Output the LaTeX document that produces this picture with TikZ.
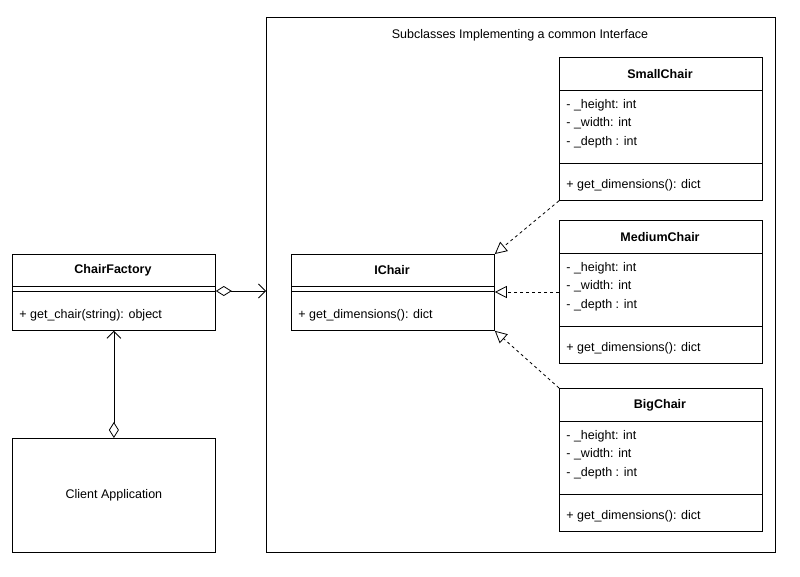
\documentclass[tikz,border=0pt]{standalone}
\usepackage{fontspec}
\setmainfont{Liberation Sans}
\usetikzlibrary{arrows.meta,positioning}

\tikzset{
  umlbox/.style={draw, fill=white, minimum width=203pt, inner sep=0pt},
  attr/.style={anchor=west, inner sep=0pt},
  realize/.style={dashed, -{Triangle[open,length=12pt,width=12pt]}},
  aggr/.style={{Diamond[open,length=16pt,width=10pt]}-{Straight Barb[length=7pt,width=14pt]}}
}

\begin{document}
\begin{tikzpicture}[x=1pt,y=-1pt,font=\fontsize{12.5}{15}\selectfont,line width=0.8pt]
  \useasboundingbox (0,0) rectangle (800,577);

  % container
  \node (group) [draw, minimum width=509pt, minimum height=535pt, anchor=north west] at (266,17) {};
  \node (grouptitle) at (520,35) {Subclasses Implementing a common Interface};

  % ChairFactory
  \node (factory) [umlbox, minimum height=76pt, anchor=north west] at (12,254) {};
  \node (factorytitle) at (113,270) {\bfseries ChairFactory};
  \draw (12,286) -- (215,286) (12,291) -- (215,291);
  \node (factoryop) [attr] at (19,315) {+ get\_chair(string): object};

  % client
  \node (client) [umlbox, minimum height=114pt, anchor=north west] at (12,438) {Client Application};

  % IChair
  \node (ichair) [umlbox, minimum height=76pt, anchor=north west] at (291,254) {};
  \node (ichairtitle) at (392,270) {\bfseries IChair};
  \draw (291,286) -- (494,286) (291,291) -- (494,291);
  \node (ichairop) [attr] at (298,315) {+ get\_dimensions(): dict};

  % subclasses
  \foreach \name/\title/\y in {small/SmallChair/57, medium/MediumChair/220, big/BigChair/388} {
    \node (\name) [umlbox, minimum height=143pt, anchor=north west] at (559,\y) {};
    \node (\name title) at (660,\y+17) {\bfseries \title};
    \draw (559,\y+33) -- (762,\y+33) (559,\y+106) -- (762,\y+106);
    \node (\name h) [attr] at (566,\y+48) {- \_height: int};
    \node (\name w) [attr] at (566,\y+66) {- \_width: int};
    \node (\name d) [attr] at (566,\y+85) {- \_depth : int};
    \node (\name op) [attr] at (566,\y+128) {+ get\_dimensions(): dict};
  }

  % connectors
  \draw [aggr] (factory.east |- 0,291) -- (group.west |- 0,291);
  \draw [aggr] (client.north) -- (factory.south);
  \draw [realize] (small.south west) -- (ichair.north east);
  \draw [realize] (medium.west |- 0,292) -- (ichair.east |- 0,292);
  \draw [realize] (big.north west) -- (ichair.south east);
\end{tikzpicture}
\end{document}
